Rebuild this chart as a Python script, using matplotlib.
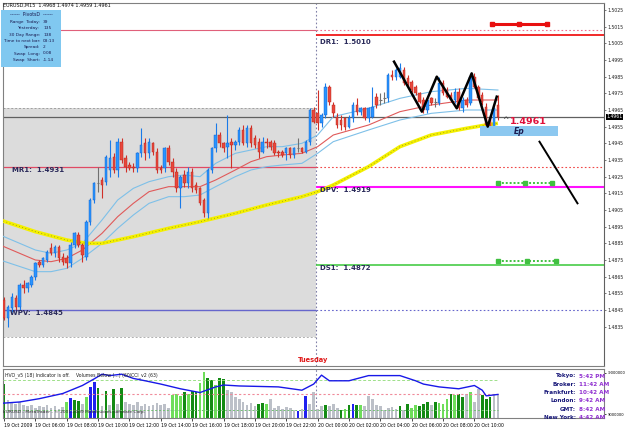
import numpy as np
import matplotlib.pyplot as plt
from matplotlib.patches import Rectangle

W, H = 625, 429

# EURUSD M15 candles, 19 Oct 04:00 -> 20 Oct 11:30
opens = [1.4851, 1.4840, 1.4846, 1.4852, 1.4847, 1.4860, 1.4858, 1.4860, 1.4865, 1.4874,
         1.4872, 1.4875, 1.4882, 1.4879, 1.4883, 1.4877, 1.4876, 1.4873, 1.4884, 1.4890,
         1.4884, 1.4877, 1.4898, 1.4911, 1.4921, 1.4923, 1.4922, 1.4929, 1.4937, 1.4929,
         1.4946, 1.4936, 1.4932, 1.4931, 1.4930, 1.4939, 1.4945, 1.4939, 1.4945, 1.4940,
         1.4930, 1.4930, 1.4942, 1.4934, 1.4928, 1.4918, 1.4926, 1.4921, 1.4928, 1.4920,
         1.4918, 1.4911, 1.4903, 1.4929, 1.4942, 1.4950, 1.4945, 1.4943, 1.4946, 1.4944,
         1.4946, 1.4953, 1.4945, 1.4954, 1.4948, 1.4946, 1.4940, 1.4946, 1.4946, 1.4945,
         1.4940, 1.4940, 1.4939, 1.4942, 1.4938, 1.4942, 1.4942, 1.4940, 1.4946, 1.4965,
         1.4963, 1.4957, 1.4962, 1.4979, 1.4968, 1.4961, 1.4959, 1.4960, 1.4955, 1.4960,
         1.4968, 1.4964, 1.4966, 1.4960, 1.4961, 1.4973, 1.4971, 1.4972, 1.4972, 1.4986,
         1.4985, 1.4985, 1.4989, 1.4984, 1.4982, 1.4979, 1.4975, 1.4971, 1.4965, 1.4972,
         1.4970, 1.4969, 1.4981, 1.4977, 1.4974, 1.4971, 1.4976, 1.4966, 1.4971, 1.4969,
         1.4985, 1.4979, 1.4974, 1.4967, 1.4960, 1.4955, 1.4968]
highs = [1.4853, 1.4848, 1.4855, 1.4854, 1.4861, 1.4863, 1.4862, 1.4866, 1.4874, 1.4875,
         1.4877, 1.4881, 1.4885, 1.4884, 1.4884, 1.4879, 1.4878, 1.4886, 1.4892, 1.4892,
         1.4885, 1.4899, 1.4912, 1.4922, 1.4931, 1.4925, 1.4938, 1.4947, 1.4939, 1.4948,
         1.4948, 1.4938, 1.4934, 1.4933, 1.4940, 1.4954, 1.4948, 1.4948, 1.4946, 1.4942,
         1.4932, 1.4943, 1.4944, 1.4936, 1.4930, 1.4926, 1.4929, 1.4931, 1.4930, 1.4922,
         1.4919, 1.4912, 1.4930, 1.4943, 1.4957, 1.4952, 1.4946, 1.4962, 1.4948, 1.4947,
         1.4955, 1.4956, 1.4956, 1.4956, 1.4950, 1.4948, 1.4949, 1.4948, 1.4947, 1.4947,
         1.4941, 1.4941, 1.4943, 1.4943, 1.4943, 1.4948, 1.4943, 1.4947, 1.4966, 1.4967,
         1.4977, 1.4963, 1.4981, 1.4980, 1.4970, 1.4963, 1.4962, 1.4961, 1.4962, 1.4970,
         1.4972, 1.4967, 1.4967, 1.4967, 1.4979, 1.4975, 1.4975, 1.4976, 1.4987, 1.4989,
         1.4990, 1.4993, 1.4991, 1.4986, 1.4983, 1.4980, 1.4976, 1.4973, 1.4972, 1.4973,
         1.4972, 1.4985, 1.4983, 1.4979, 1.4976, 1.4978, 1.4978, 1.4973, 1.4973, 1.4986,
         1.4987, 1.4980, 1.4976, 1.4969, 1.4962, 1.4967, 1.4974]
lows = [1.4839, 1.4835, 1.4844, 1.4845, 1.4845, 1.4855, 1.4856, 1.4859, 1.4863, 1.4871,
        1.4871, 1.4874, 1.4878, 1.4877, 1.4874, 1.4872, 1.4870, 1.4871, 1.4882, 1.4883,
        1.4874, 1.4875, 1.4896, 1.4909, 1.4916, 1.4912, 1.4920, 1.4925, 1.4927, 1.4925,
        1.4933, 1.4928, 1.4929, 1.4928, 1.4928, 1.4937, 1.4935, 1.4936, 1.4938, 1.4927,
        1.4927, 1.4928, 1.4932, 1.4925, 1.4916, 1.4906, 1.4919, 1.4918, 1.4916, 1.4915,
        1.4908, 1.4901, 1.4900, 1.4927, 1.4940, 1.4943, 1.4940, 1.4936, 1.4930, 1.4941,
        1.4944, 1.4944, 1.4943, 1.4943, 1.4942, 1.4936, 1.4939, 1.4942, 1.4941, 1.4938,
        1.4937, 1.4937, 1.4935, 1.4936, 1.4936, 1.4940, 1.4939, 1.4939, 1.4944, 1.4957,
        1.4953, 1.4955, 1.4960, 1.4968, 1.4961, 1.4954, 1.4953, 1.4953, 1.4954, 1.4958,
        1.4962, 1.4962, 1.4959, 1.4958, 1.4960, 1.4966, 1.4968, 1.4969, 1.4970, 1.4983,
        1.4983, 1.4984, 1.4980, 1.4979, 1.4976, 1.4974, 1.4969, 1.4963, 1.4963, 1.4968,
        1.4967, 1.4968, 1.4974, 1.4972, 1.4970, 1.4969, 1.4965, 1.4964, 1.4967, 1.4968,
        1.4978, 1.4972, 1.4968, 1.4955, 1.4953, 1.4954, 1.4959]
closes = [1.4840, 1.4847, 1.4853, 1.4847, 1.4860, 1.4858, 1.4861, 1.4865, 1.4873, 1.4872,
          1.4876, 1.4880, 1.4879, 1.4883, 1.4876, 1.4874, 1.4873, 1.4884, 1.4891, 1.4884,
          1.4878, 1.4898, 1.4911, 1.4921, 1.4921, 1.4920, 1.4937, 1.4936, 1.4929, 1.4946,
          1.4935, 1.4931, 1.4930, 1.4930, 1.4939, 1.4944, 1.4939, 1.4946, 1.4940, 1.4929,
          1.4929, 1.4942, 1.4934, 1.4928, 1.4918, 1.4925, 1.4921, 1.4928, 1.4918, 1.4917,
          1.4909, 1.4903, 1.4929, 1.4942, 1.4950, 1.4945, 1.4942, 1.4945, 1.4944, 1.4946,
          1.4953, 1.4945, 1.4954, 1.4945, 1.4944, 1.4940, 1.4946, 1.4945, 1.4943, 1.4939,
          1.4939, 1.4938, 1.4942, 1.4938, 1.4942, 1.4942, 1.4940, 1.4946, 1.4965, 1.4958,
          1.4957, 1.4962, 1.4979, 1.4970, 1.4963, 1.4956, 1.4956, 1.4955, 1.4960, 1.4968,
          1.4964, 1.4966, 1.4960, 1.4966, 1.4967, 1.4968, 1.4971, 1.4972, 1.4986, 1.4985,
          1.4989, 1.4990, 1.4981, 1.4981, 1.4977, 1.4975, 1.4970, 1.4965, 1.4971, 1.4969,
          1.4970, 1.4981, 1.4975, 1.4973, 1.4971, 1.4976, 1.4966, 1.4971, 1.4968, 1.4985,
          1.4979, 1.4972, 1.4970, 1.4956, 1.4955, 1.4966, 1.4961]

# envelope / moving average lines (bar index -> price)
band_idx = [-1, 8, 12, 16, 20, 25, 29, 33, 37, 42, 46, 50, 54, 59, 63, 67, 71, 76, 80,
            84, 93, 101, 109, 118, 126]
band_mid = [1.4884, 1.4875, 1.4874, 1.4876, 1.4881, 1.4891, 1.4901, 1.4909, 1.4916, 1.4919,
            1.4919, 1.4919, 1.4923, 1.4929, 1.4934, 1.4937, 1.4938, 1.4939, 1.4943,
            1.4950, 1.4956, 1.4964, 1.4968, 1.4971, 1.4971]
band_up = [1.4890, 1.4881, 1.4879, 1.4881, 1.4885, 1.4899, 1.4911, 1.4918, 1.4922, 1.4925,
           1.4926, 1.4925, 1.4933, 1.4939, 1.4941, 1.4943, 1.4943, 1.4945, 1.4950,
           1.4961, 1.4966, 1.4972, 1.4976, 1.4978, 1.4977]
band_lo = [1.4875, 1.4868, 1.4868, 1.4870, 1.4876, 1.4885, 1.4894, 1.4902, 1.4909, 1.4913,
           1.4913, 1.4914, 1.4919, 1.4925, 1.4929, 1.4931, 1.4932, 1.4933, 1.4939,
           1.4946, 1.4953, 1.4959, 1.4963, 1.4965, 1.4965]
ma_idx = [-1, 8, 16, 21, 25, 33, 42, 50, 59, 67, 76, 80, 84, 93, 101, 109, 118, 123, 126]
ma_vals = [1.4899, 1.4892, 1.4887, 1.4885, 1.4885, 1.4889, 1.4894, 1.4898, 1.4903, 1.4908,
           1.4913, 1.4916, 1.4920, 1.4931, 1.4943, 1.4950, 1.4954, 1.4956, 1.4957]

# pivot levels
dr1, mr1, dpv, ds1, wpv = 1.5010, 1.4931, 1.4919, 1.4872, 1.4845
top_pink = 1.5013
last_price = 1.4961
prev_hi, prev_lo = 1.4966, 1.4829

zz_idx = [99.5, 106.6, 110.4, 115.5, 119.3, 123.4, 125.7]
zz_px = [1.4994, 1.4964, 1.4985, 1.4966, 1.4987, 1.4955, 1.4973]
proj_idx = [136.6, 146.3]
proj_px = [1.4946, 1.4909]

# volume panel (percent of panel height)
vol = [72, 38, 35, 30, 33, 28, 25, 27, 22, 26, 24, 28, 22, 25, 20, 23, 35, 43, 38, 36,
       30, 45, 65, 77, 63, 25, 58, 28, 61, 30, 64, 35, 30, 28, 33, 26, 30, 25, 28, 32,
       27, 30, 22, 48, 50, 46, 55, 52, 58, 55, 75, 97, 85, 80, 70, 84, 83, 60, 55, 45,
       40, 35, 28, 32, 25, 30, 31, 30, 41, 22, 25, 20, 24, 22, 18, 15, 20, 47, 30, 55,
       20, 25, 27, 26, 29, 22, 16, 20, 28, 30, 28, 28, 25, 47, 40, 28, 26, 18, 22, 24,
       20, 26, 18, 30, 22, 28, 26, 30, 33, 28, 35, 32, 30, 40, 50, 48, 52, 45, 50, 55,
       35, 62, 48, 40, 45, 52, 50]
vol_kind = ("dggggggggggggggglbddglbbdgdgdgdggggggggggggllldlddllddlddggggggggddl"
            "gggggggbgbggggdgggdldbdlgggggggggdgdlldddgdllldlddglggdd")
cci_idx = [-1, 4, 9, 15, 20, 23, 25, 27, 30, 33, 36, 40, 45, 50, 54, 56, 60, 70, 76, 79,
           81, 83, 88, 93, 101, 105, 107, 111, 116, 120, 122, 123, 126]
cci_vals = [31, 34, 41, 52, 69, 83, 93, 90, 93, 84, 79, 72, 62, 54, 66, 70, 68, 66, 59, 72,
            91, 79, 79, 90, 90, 79, 72, 66, 62, 69, 59, 47, 50]

time_ticks = list(range(0, 121, 8))
time_labels = ["19 Oct 2009", "19 Oct 06:00", "19 Oct 08:00", "19 Oct 10:00", "19 Oct 12:00",
               "19 Oct 14:00", "19 Oct 16:00", "19 Oct 18:00", "19 Oct 20:00", "19 Oct 22:00",
               "20 Oct 00:00", "20 Oct 02:00", "20 Oct 04:00", "20 Oct 06:00", "20 Oct 08:00",
               "20 Oct 10:00"]
clock_names = ["Tokyo:", "Broker:", "Frankfurt:", "London:", "GMT:", "New York:"]
clock_times = ["5:42 PM", "11:42 AM", "10:42 AM", "9:42 AM", "8:42 AM", "4:42 AM"]
info_names = ["Range  Today:", "Yesterday:", "30 Day Range:", "Time to next bar:",
              "Spread:", "Swap  Long:", "Swap  Short:"]
info_vals = ["39", "135", "138", "03:13", "2", "0.08", "-1.14"]


def px2price(y):
    return 1.5025 - (y - 10) * 0.00006


def px2bar(x):
    return (x - 4) / 3.92


def fx(x):
    return x / W


def fy(y):
    return 1 - y / H


fig = plt.figure(figsize=(W / 100, H / 100), dpi=100)
fig.patch.set_facecolor("white")

RX = 604
ax = fig.add_axes([fx(3), fy(366), fx(RX) - fx(3), fy(3) - fy(366)])
sub = fig.add_axes([fx(3), fy(418), fx(RX) - fx(3), fy(369) - fy(418)])
x0, x1 = px2bar(3), px2bar(RX)
sep = 79.5

# ---- main price chart ----
ax.set_xlim(x0, x1)
ax.set_ylim(px2price(366), px2price(3))
ax.add_patch(Rectangle((x0, prev_lo), sep - x0, prev_hi - prev_lo,
                       facecolor="#dcdcdc", edgecolor="none", zorder=0))
ax.plot([x0, sep], [prev_hi, prev_hi], color="#a0a0a0", lw=0.7, ls=(0, (2, 2)), zorder=1)
ax.hlines(prev_lo, x0, sep, color="#b0b0b0", lw=0.7, linestyles=(0, (2, 2)), zorder=1)
ax.axvline(sep, color="#8080a8", lw=0.8, ls=(0, (1.5, 2)), zorder=1)

# pivot lines
ax.hlines(top_pink, px2bar(60), sep, color="#e0607a", lw=0.8, zorder=1)
ax.hlines(top_pink, sep, x1, color="#f07090", lw=0.8, linestyles=(0, (1.5, 2)), zorder=1)
ax.hlines(dr1, sep, x1, color="#f01818", lw=1.3, zorder=1)
ax.hlines(mr1, x0, sep, color="#e04a64", lw=0.9, zorder=2)
ax.hlines(mr1, sep, x1, color="#f04848", lw=0.8, linestyles=(0, (1.5, 2)), zorder=1)
ax.hlines(dpv, sep, x1, color="#ff10ff", lw=1.5, zorder=1)
ax.hlines(ds1, sep, x1, color="#38c838", lw=1.1, zorder=1)
ax.hlines(wpv, x0, sep, color="#6666cc", lw=1.0, zorder=2)
ax.hlines(wpv, sep, x1, color="#6666cc", lw=0.8, linestyles=(0, (1.5, 2)), zorder=1)
ax.hlines(last_price, x0, x1, color="#606060", lw=0.9, zorder=2)

lab = dict(fontsize=5.0, color="#2a2a5a", fontweight="bold", va="center", zorder=6)
ax.text(px2bar(320), px2price(42), "DR1:  1.5010", **lab)
ax.text(px2bar(12), px2price(170), "MR1:  1.4931", **lab)
ax.text(px2bar(320), px2price(190), "DPV:  1.4919", **lab)
ax.text(px2bar(320), px2price(268), "DS1:  1.4872", **lab)
ax.text(px2bar(10), px2price(313), "WPV:  1.4845", **lab)
ax.text(px2bar(328), px2price(360), "Tuesday", fontsize=4.8, color="#e01818",
        fontweight="bold", ha="right", va="center")

# bands and moving average
ax.plot(band_idx, band_up, color="#7ec0e8", lw=0.8, zorder=3)
ax.plot(band_idx, band_lo, color="#7ec0e8", lw=0.8, zorder=3)
ax.plot(band_idx, band_mid, color="#e05a5a", lw=0.8, zorder=3)
ax.plot(ma_idx, ma_vals, color="#f4f000", lw=2.6, zorder=3, solid_capstyle="butt")
ax.plot(ma_idx, ma_vals, color="#8a8a20", lw=0.6, ls=(0, (1, 3)), zorder=3)

# candles
o = np.array(opens)
h = np.array(highs)
l = np.array(lows)
c = np.array(closes)
idx = np.arange(len(o))
up = c > o
dn = c < o
fl = c == o
ax.vlines(idx[up], l[up], h[up], color="#1a7ae8", lw=0.8, zorder=4)
ax.vlines(idx[dn], l[dn], h[dn], color="#d03028", lw=0.8, zorder=4)
ax.vlines(idx[fl], l[fl], h[fl], color="#707070", lw=0.8, zorder=4)
ax.bar(idx[up], c[up] - o[up], bottom=o[up], width=0.64, color="#2a94ff",
       edgecolor="#0c5cc8", lw=0.3, zorder=5)
ax.bar(idx[dn], o[dn] - c[dn], bottom=c[dn], width=0.64, color="#e8473c",
       edgecolor="#b42218", lw=0.3, zorder=5)
ax.hlines(c[fl], idx[fl] - 0.35, idx[fl] + 0.35, color="#707070", lw=0.8, zorder=5)

# zigzag, projection and target marks
ax.plot(zz_idx, zz_px, color="black", lw=1.8, zorder=7)
ax.plot(proj_idx, proj_px, color="black", lw=1.4, zorder=7)
ax.plot([px2bar(492), px2bar(519), px2bar(547)], [px2price(24)] * 3, color="#e81010",
        lw=2.2, marker="s", ms=3.2, zorder=7)
ax.plot([px2bar(498), px2bar(525), px2bar(552)], [px2price(183)] * 3, color="#40c040",
        lw=1.4, ls=(0, (1, 1)), marker="s", ms=2.5, zorder=7)
ax.plot([px2bar(498), px2bar(527), px2bar(556)], [px2price(261)] * 3, color="#40c040",
        lw=1.4, ls=(0, (1, 1)), marker="s", ms=2.5, zorder=7)
ax.add_patch(Rectangle((px2bar(480), px2price(136)), px2bar(558) - px2bar(480),
                       px2price(126) - px2price(136), facecolor="#8cc8f0",
                       edgecolor="none", zorder=6))
ax.text(px2bar(519), px2price(131), "Ep", fontsize=5.5, fontweight="bold",
        fontstyle="italic", color="#1a1a50", ha="center", va="center", zorder=8)
ax.text(px2bar(502), px2price(120), "^", fontsize=5.5, color="#404040", va="center", zorder=8)
ax.text(px2bar(510), px2price(121), "1.4961", fontsize=6.8, color="#e0103a",
        fontweight="bold", va="center", zorder=8)

# right price scale
ax.yaxis.tick_right()
yt = np.round(np.arange(1.4835, 1.50251, 0.001), 4)
ax.set_yticks(yt)
ax.set_yticklabels([f"{v:.4f}" for v in yt], fontsize=3.3, color="#202020")
ax.tick_params(axis="y", length=1.5, width=0.5, pad=1, color="#404040")
ax.set_xticks([])
for s in ["top", "left", "bottom"]:
    ax.spines[s].set_color("#808080")
    ax.spines[s].set_linewidth(0.8)
ax.spines["right"].set_color("#606060")
ax.text(1.004, last_price, "1.4961", transform=ax.get_yaxis_transform(), fontsize=3.3,
        color="white", va="center", ha="left",
        bbox=dict(boxstyle="square,pad=0.1", facecolor="black", edgecolor="none"),
        zorder=9, clip_on=False)

# ---- sub panel ----
sub.set_xlim(x0, x1)
sub.set_ylim(0, 104)
kcol = {"g": "#bcc0c8", "l": "#6ede5a", "d": "#138a13", "b": "#2020f0"}
sub.bar(np.arange(len(vol)), vol, width=0.7, color=[kcol[k] for k in vol_kind],
        lw=0, zorder=2)
last = len(vol) - 1
sub.hlines(81, x0, last, color="#9ee08a", lw=0.7, linestyles=(0, (3, 2)), zorder=3)
sub.hlines(50, x0, last, color="#f08a9a", lw=0.8, linestyles=(0, (2, 2)), zorder=3)
sub.hlines(17, x0, last, color="#70c070", lw=0.7, linestyles=(0, (2, 2)), zorder=3)
sub.plot(cci_idx, cci_vals, color="#1818e8", lw=1.0, zorder=4)
sub.axvline(sep, color="#8080a8", lw=0.8, ls=(0, (1.5, 2)), zorder=1)
sub.text(px2bar(5), 91, "HVO_v5 (18) Indicator is off.", fontsize=3.3, color="#202020",
         va="center", zorder=5)
sub.text(px2bar(76), 91, "Volumes Below (...) (60)", fontsize=3.3, color="#202020",
         va="center", zorder=5)
sub.text(px2bar(131), 91, "CCI_v2 (63)", fontsize=3.3, color="#202020", va="center",
         zorder=5)
sub.text(px2bar(3), 12, "EURUSD - MetaTrader - \u00a9 2001-2009 MetaQuotes Software Corp.",
         fontsize=3.2, color="#303030", va="center", zorder=5)
for k, (nm, tm) in enumerate(zip(clock_names, clock_times)):
    yy = 376 + k * 8.3
    fig.text(fx(576), fy(yy), nm, fontsize=4.1, color="#1a1a7a", fontweight="bold",
             ha="right", va="center")
    fig.text(fx(579), fy(yy), tm, fontsize=4.1, color="#9030d0", fontweight="bold",
             ha="left", va="center")
sub.yaxis.tick_right()
sub.set_yticks([8, 96])
sub.set_yticklabels(["9000000", "-9000000"], fontsize=2.6)
sub.tick_params(axis="y", length=1.5, width=0.5, pad=1)
sub.set_xticks(time_ticks)
sub.set_xticklabels(time_labels, fontsize=3.3, ha="left")
sub.tick_params(axis="x", length=2, width=0.5, pad=1.5)
for s in sub.spines.values():
    s.set_color("#808080")
    s.set_linewidth(0.8)

# ---- header and info box ----
fig.text(fx(3), fy(5), "EURUSD,M15  1.4968 1.4974 1.4959 1.4961", fontsize=3.5,
         color="#101010", va="center")
fig.add_artist(Rectangle((fx(1), fy(67)), fx(61) - fx(1), fy(10) - fy(67),
                         transform=fig.transFigure, facecolor="#80c8f0", edgecolor="none"))
fig.text(fx(31), fy(15), "------  PivotsD  ------", fontsize=3.3, color="#1a1a50",
         ha="center", va="center")
for k, (nm, vv) in enumerate(zip(info_names, info_vals)):
    yy = 22 + k * 6.3
    fig.text(fx(40), fy(yy), nm, fontsize=3.1, color="#1a1a50", ha="right", va="center")
    fig.text(fx(43), fy(yy), vv, fontsize=3.1, color="#1a1a50", ha="left", va="center")

fig.savefig("out.png", dpi=100, facecolor="white")
